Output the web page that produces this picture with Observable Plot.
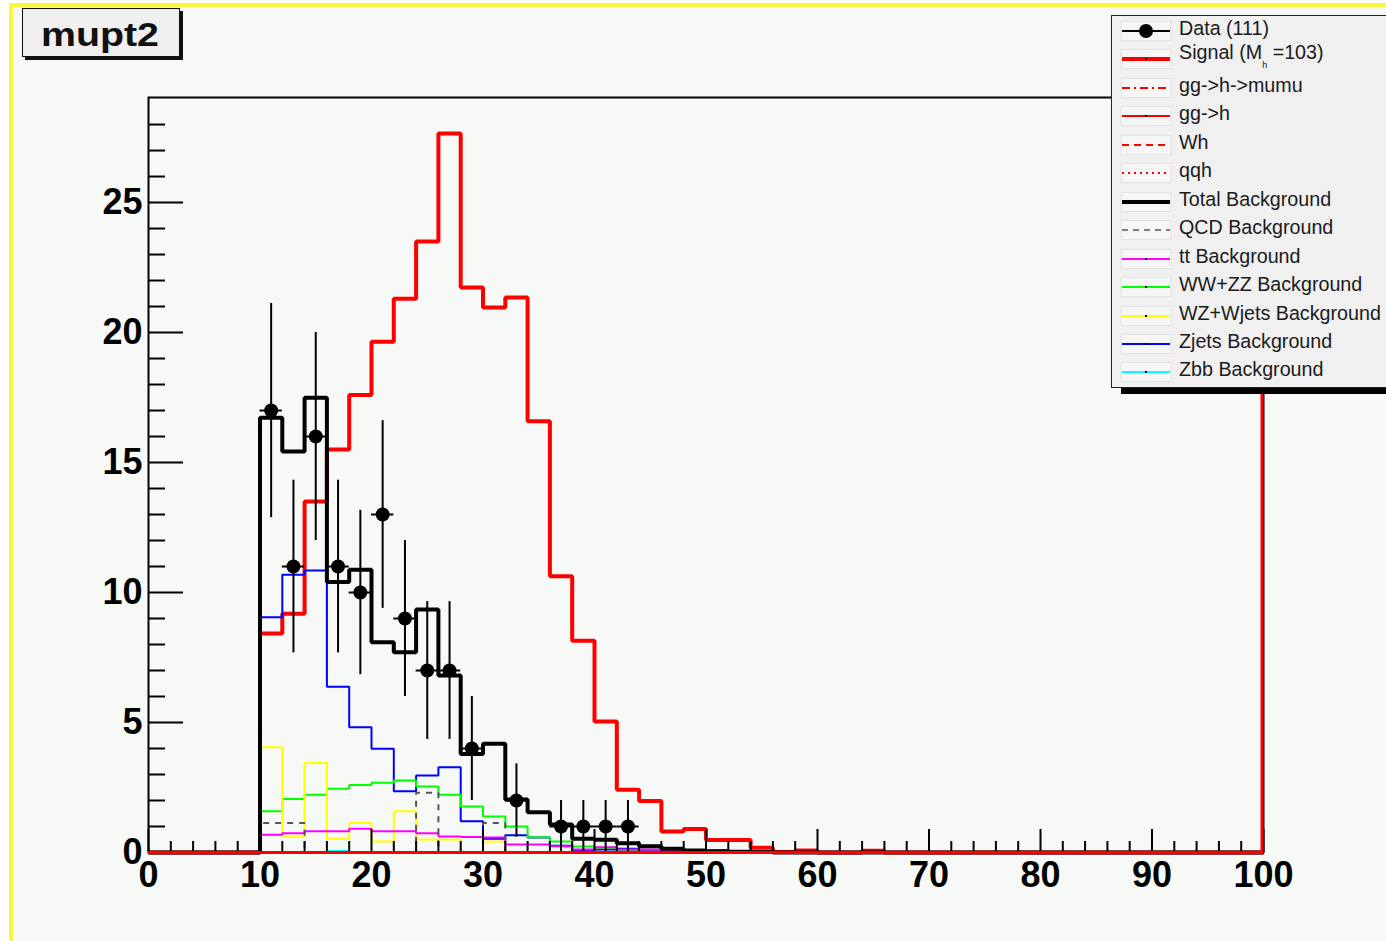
<!DOCTYPE html>
<html>
<head>
<meta charset="utf-8">
<script src="https://cdn.jsdelivr.net/npm/d3@7"></script>
<script src="https://cdn.jsdelivr.net/npm/@observablehq/plot@0.6"></script>
<style>
  html, body { margin: 0; padding: 0; background: #ffffff; overflow: hidden; }
  #canvas { position: relative; width: 1386px; height: 941px; overflow: hidden; background: #ffffff;
            font-family: "Liberation Sans", Arial, Helvetica, sans-serif; }
  #pad { position: absolute; left: 9px; top: 3px; right: 0; bottom: 0; background: #f6f9f6;
         border-left: 4px solid #f7f73c; border-top: 4px solid #f7f73c; }
  #chart { position: absolute; left: 0; top: 0; }
  #title { position: absolute; left: 22px; top: 8px; width: 156px; height: 47px; background: #efefef;
           border: 1.5px solid #111; box-shadow: 3px 3px 0 #111; }
  #legend { position: absolute; left: 1111px; top: 15px; width: 300px; height: 371px; background: #f0f0f0;
            border: 1.5px solid #222; box-shadow: 10px 6px 0 #000; }
  .row { position: absolute; left: 0; height: 28px; width: 300px; }
  .row svg { position: absolute; left: 8px; top: 3px; }
  .row span.lab { position: absolute; left: 67px; top: 0px; font-size: 19.7px; color: #1a1a1a; line-height: 22px; white-space: nowrap; }
</style>
</head>
<body>
<div id="canvas">
  <div id="pad"></div>
  <div id="chart"></div>
  <div id="title"><svg width="156" height="47"><text x="18" y="37" font-family="Liberation Sans, Arial, Helvetica, sans-serif" font-weight="bold" font-size="33" fill="#111" textLength="118" lengthAdjust="spacingAndGlyphs">mupt2</text></svg></div>
  <div id="legend"></div>
</div>
<script>
// ---------------- data ----------------
// lower edges of the 50 bins (width 2) covering 0..100
const binEdges = [0,2,4,6,8,10,12,14,16,18,20,22,24,26,28,30,32,34,36,38,40,42,44,46,48,
                  50,52,54,56,58,60,62,64,66,68,70,72,74,76,78,80,82,84,86,88,90,92,94,96,98];
const binWidth = 2;
const xMax = 100;

const signal = [0,0,0,0,0, 8.42,9.18,13.5,15.5,17.6, 19.65,21.3,23.5,27.66,21.73, 20.96,21.35,16.59,10.63,8.14,
                5.04,2.41,1.98,0.81,0.9, 0.48,0.48,0.18,0.02,0.08, 0,0,0.07,0,0, 0,0,0,0,0, 0,0,0,0,0, 0,0,0,0,0];
const totalBkg = [0,0,0,0,0, 16.72,15.42,17.49,10.4,10.88, 8.09,7.7,9.35,6.81,3.79, 4.18,2.04,1.55,1.08,0.53,
                  0.49,0.36,0.24,0.14,0.08, 0.05,0.03,0.02,0,0, 0,0,0,0,0, 0,0,0,0,0, 0,0,0,0,0, 0,0,0,0,0];
const qcdBkg = [0,0,0,0,0, 1.13,1.13,0,0,0, 0,0,2.3,0,0, 1.13,0,0,0,0, 0,0,0,0,0, 0,0,0,0,0,
                0,0,0,0,0, 0,0,0,0,0, 0,0,0,0,0, 0,0,0,0,0];
const ttBkg = [0,0,0,0,0, 0.68,0.74,0.82,0.82,0.91, 0.82,0.82,0.74,0.62,0.6, 0.58,0.31,0.31,0.24,0.12,
               0.2,0.12,0.12,0.06,0.03, 0,0,0,0,0, 0,0,0,0,0, 0,0,0,0,0, 0,0,0,0,0, 0,0,0,0,0];
const wwzzBkg = [0,0,0,0,0, 1.59,2.06,2.22,2.45,2.6, 2.68,2.77,2.54,2.22,1.77, 1.38,1.0,0.59,0.42,0.23,
                 0.18,0.07,0.03,0,0, 0,0,0,0,0, 0,0,0,0,0, 0,0,0,0,0, 0,0,0,0,0, 0,0,0,0,0];
const wzWjetsBkg = [0,0,0,0,0, 4.05,0.62,3.44,0.53,1.13, 0.42,1.59,0.5,0.5,0, 0.42,0,0,0,0,
                    0,0,0,0,0, 0,0,0,0,0, 0,0,0,0,0, 0,0,0,0,0, 0,0,0,0,0, 0,0,0,0,0];
const zjetsBkg = [0,0,0,0,0, 9.05,10.68,10.85,6.38,4.82, 3.99,2.36,2.96,3.28,1.2, 0.53,0.66,0.58,0.26,0.1,
                  0.12,0.14,0.05,0.02,0.02, 0.08,0.02,0,0,0, 0,0,0,0,0, 0,0,0,0,0, 0,0,0,0,0, 0,0,0,0,0];
const zbbBkg = [null,null,null,null,null, 0.01,0.01,0.01,0.06,0.01, 0.01,0.01,0.01,0.01,0.01, 0.01,0.01,0.01,0.01,0.01,
                0.01,0.01,0.01,0.01,0.01, 0.01,0.01,0.01,0,0, 0,0,0,0,0, 0,0,0,0,0, 0,0,0,0,0, 0,0,0,0,0];
const ggHmumu = [0,0,0,0,0,0,0,0,0,0, 0,0,0,0,0,0,0,0,0,0, 0,0,0,0,0,0,0,0,0,0, 0,0,0,0,0,0,0,0,0,0, 0,0,0,0,0,0,0,0,0,0];
const ggH     = [0,0,0,0,0,0,0,0,0,0, 0,0,0,0,0,0,0,0,0,0, 0,0,0,0,0,0,0,0,0,0, 0,0,0,0,0,0,0,0,0,0, 0,0,0,0,0,0,0,0,0,0];
const whSig   = [0,0,0,0,0,0,0,0,0,0, 0,0,0,0,0,0,0,0,0,0, 0,0,0,0,0,0,0,0,0,0, 0,0,0,0,0,0,0,0,0,0, 0,0,0,0,0,0,0,0,0,0];
const qqhSig  = [0,0,0,0,0,0,0,0,0,0, 0,0,0,0,0,0,0,0,0,0, 0,0,0,0,0,0,0,0,0,0, 0,0,0,0,0,0,0,0,0,0, 0,0,0,0,0,0,0,0,0,0];

// observed data (111 events): lower bin edge, count, error
const dataBinLow = [10,12,14,16,18,20,22,24,26,28,32,36,38,40,42];
const dataCount  = [17,11,16,11,10,13,9,7,7,4,2,1,1,1,1];
const dataErr    = [4.12,3.32,4,3.32,3.16,3.61,3,2.65,2.65,2,1.41,1,1,1,1];

// axes
const xMajorTicks = [0,10,20,30,40,50,60,70,80,90,100];
const xMinorTicks = [2,4,6,8,12,14,16,18,22,24,26,28,32,34,36,38,42,44,46,48,52,54,56,58,
                     62,64,66,68,72,74,76,78,82,84,86,88,92,94,96,98];
const yMajorTicks = [0,5,10,15,20,25];
const yMinorTicks = [1,2,3,4,6,7,8,9,11,12,13,14,16,17,18,19,21,22,23,24,26,27,28];
const yMax = 29.04;

// legend entries
const legendLabels = ["Data (111)", "Signal (M_h =103)", "gg->h->mumu", "gg->h", "Wh", "qqh",
  "Total Background", "QCD Background", "tt Background", "WW+ZZ Background",
  "WZ+Wjets Background", "Zjets Background", "Zbb Background"];

// ---------------- build ----------------
const FONT = '"Liberation Sans", Arial, Helvetica, sans-serif';
function steps(values) {
  const pts = values.map((v, i) => ({x: binEdges[i], y: v}));
  pts.push({x: xMax, y: values[values.length - 1]});
  return pts;
}
const dataPts = dataBinLow.map((lo, i) => ({lo, hi: lo + binWidth, x: lo + binWidth / 2, n: dataCount[i], e: dataErr[i]}));

const W = 1386, H = 941;
const mL = 148, mR = 123, mT = 97, mB = 89;
const frameW = W - mL - mR, frameH = H - mT - mB;

function hist(values, stroke, strokeWidth, extra = {}) {
  return Plot.line(steps(values), {x: "x", y: "y", curve: "step-after", stroke, strokeWidth,
    strokeLinejoin: "miter", strokeLinecap: "butt", ...extra});
}

const chart = Plot.plot({
  width: W, height: H,
  marginLeft: mL, marginRight: mR, marginTop: mT, marginBottom: mB,
  x: {domain: [0, xMax]},
  y: {domain: [0, yMax]},
  style: {background: "transparent", fontFamily: FONT, overflow: "visible"},
  marks: [
    hist(signal, "#ff0000", 4),
    hist(zjetsBkg, "#0000ff", 2),
    hist(wwzzBkg, "#00ff00", 2),
    hist(wzWjetsBkg, "#ffff00", 2),
    hist(ttBkg, "#ff00ff", 2),
    hist(qcdBkg, "#555555", 2, {strokeDasharray: "6,6"}),
    hist(totalBkg, "#000000", 4),
    hist(zbbBkg, "#00ffff", 2),
    hist(ggH, "#ff0000", 1.5),
    hist(ggHmumu, "#ff0000", 2, {strokeDasharray: "8,4,2,4"}),
    hist(whSig, "#ff0000", 2, {strokeDasharray: "8,6"}),
    hist(qqhSig, "#ff0000", 2, {strokeDasharray: "2,4"}),
    // data with error bars
    Plot.ruleX(dataPts, {x: "x", y1: d => d.n - d.e, y2: d => d.n + d.e, stroke: "#000", strokeWidth: 2}),
    Plot.ruleY(dataPts, {y: "n", x1: "lo", x2: "hi", stroke: "#000", strokeWidth: 2}),
    Plot.dot(dataPts, {x: "x", y: "n", r: 7, fill: "#000", stroke: "none"}),
    // ticks drawn inside the frame (ROOT style)
    Plot.tickX(xMajorTicks, {x: d => d, insetTop: frameH - 23, stroke: "#000", strokeWidth: 2}),
    Plot.tickX(xMinorTicks, {x: d => d, insetTop: frameH - 11, stroke: "#000", strokeWidth: 2}),
    Plot.tickY(yMajorTicks, {y: d => d, insetRight: frameW - 35, stroke: "#000", strokeWidth: 2}),
    Plot.tickY(yMinorTicks, {y: d => d, insetRight: frameW - 17, stroke: "#000", strokeWidth: 2}),
    Plot.frame({stroke: "#000", strokeWidth: 2}),
    Plot.ruleY([0], {stroke: "#ff0000", strokeWidth: 3}),
    Plot.ruleX([xMax], {stroke: "#ff0000", strokeWidth: 3, dx: -1.5}),
    Plot.axisX({ticks: xMajorTicks, tickSize: 0, tickPadding: 9, fontSize: 36, fontWeight: "bold",
      fill: "#000", tickFormat: d => String(d), label: null}),
    Plot.axisY({ticks: yMajorTicks, tickSize: 0, tickPadding: 6, fontSize: 36, fontWeight: "bold",
      fill: "#000", tickFormat: d => String(d), label: null})
  ]
});
document.getElementById("chart").appendChild(chart);

// ---------------- legend ----------------
const samples = [
  {stroke: "#000", w: 2, dot: 7},
  {stroke: "#ff0000", w: 4, mark: true},
  {stroke: "#ff0000", w: 2, dash: "8,4,2,4"},
  {stroke: "#ff0000", w: 2, mark: true},
  {stroke: "#ff0000", w: 2, dash: "7,5"},
  {stroke: "#ff0000", w: 2, dash: "2,4"},
  {stroke: "#000", w: 4},
  {stroke: "#555", w: 1.5, dash: "6,5"},
  {stroke: "#ff00ff", w: 2, mark: true},
  {stroke: "#00ff00", w: 2, mark: true},
  {stroke: "#ffff00", w: 2, mark: true},
  {stroke: "#0000ff", w: 2, mark: true},
  {stroke: "#00ffff", w: 2, mark: true}
];
const legend = document.getElementById("legend");
legendLabels.forEach((lab, i) => {
  const row = document.createElement("div");
  row.className = "row";
  row.style.top = (1 + i * 28.45) + "px";
  const s = samples[i];
  let svg = `<svg width="52" height="22"><rect x="1" y="1.5" width="50" height="19" fill="#f6f6f6" stroke="#e2e2e2" stroke-width="1"/>`;
  svg += `<line x1="2" x2="50" y1="11" y2="11" stroke="${s.stroke}" stroke-width="${s.w}" ${s.dash ? `stroke-dasharray="${s.dash}"` : ""}/>`;
  if (s.dot) svg += `<circle cx="26" cy="11" r="${s.dot}" fill="#000"/>`;
  if (s.mark) svg += `<rect x="25" y="10" width="2" height="2" fill="#000"/>`;
  svg += `</svg>`;
  let text = lab;
  let extraTop = 0;
  if (lab.includes("M_h")) {
    text = lab.replace("M_h", 'M<span style="position:relative;top:9px;font-size:9px;line-height:0">h</span>');
    extraTop = -4;
  }
  row.innerHTML = svg + `<span class="lab" style="top:${extraTop}px">${text}</span>`;
  legend.appendChild(row);
});
</script>
</body>
</html>
